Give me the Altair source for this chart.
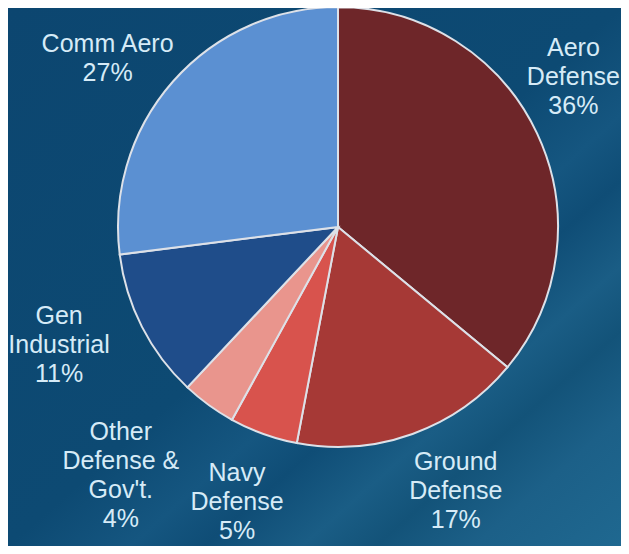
import math
import altair as alt
import pandas as pd

# ---- data ----
categories = ["Aero Defense", "Ground Defense", "Navy Defense",
              "Other Defense & Gov't.", "Gen Industrial", "Comm Aero"]
shares = [36, 17, 5, 4, 11, 27]
label_texts = ["Aero\nDefense\n36%", "Ground\nDefense\n17%", "Navy\nDefense\n5%",
               "Other\nDefense &\nGov't.\n4%", "Gen\nIndustrial\n11%", "Comm Aero\n27%"]
colors = ["#6e2629", "#a63936", "#d8534d", "#e9958d", "#1f4d8a", "#5b90d2"]

# ---- layout ----
W, H = 613, 538
CX, CY = 330, 219
R = 220
LH = 29
label_radius = [287, 286, 301, 328, 303, 289]
label_nudge = [-6.8, -4.3, 0.0, 5.7, 4.5, -4.6]
label_dx = [-9, 0, 0, 0, 0, 0]
label_dy = [0, 1, -10, 2, 0, 3]

pie_df = pd.DataFrame({"idx": list(range(len(categories))),
                       "category": categories, "share": shares})

total = sum(shares)
lx, ly = [], []
cum = 0.0
for s, r, n, t, ddx, ddy in zip(shares, label_radius, label_nudge, label_texts,
                                label_dx, label_dy):
    mid = (cum + s / 2) / total * 360 + n
    cum += s
    a = math.radians(mid)
    nlines = t.count("\n") + 1
    lx.append(CX + 1 + r * math.sin(a) + ddx)
    ly.append(CY + 2 - r * math.cos(a) - (nlines - 1) / 2 * LH + ddy)
lab_df = pd.DataFrame({"label": label_texts, "lx": lx, "ly": ly})

bg_df = pd.DataFrame({"k": [0]})
bg = alt.Chart(bg_df).mark_rect(
    color=alt.LinearGradient(
        gradient="linear", x1=0, y1=0, x2=1, y2=1,
        stops=[alt.GradientStop(color="#0c4670", offset=0),
               alt.GradientStop(color="#0d4a73", offset=0.5),
               alt.GradientStop(color="#155680", offset=0.6),
               alt.GradientStop(color="#0f4d76", offset=0.66),
               alt.GradientStop(color="#1a5d85", offset=0.74),
               alt.GradientStop(color="#135379", offset=0.8),
               alt.GradientStop(color="#1c6088", offset=0.88),
               alt.GradientStop(color="#1f6890", offset=1)])
).encode(x=alt.value(0), x2=alt.value(W), y=alt.value(0), y2=alt.value(H))

pie = alt.Chart(pie_df).mark_arc(radius=R, stroke="#dde1e8", strokeWidth=2).encode(
    theta=alt.Theta("share:Q", stack=True),
    order=alt.Order("idx:Q", sort="ascending"),
    color=alt.Color("category:N", scale=alt.Scale(domain=categories, range=colors),
                    legend=None),
    x=alt.value(CX), y=alt.value(CY),
)

labels = alt.Chart(lab_df).mark_text(
    align="center", baseline="middle", lineBreak="\n", lineHeight=LH,
    fontSize=25, font="Liberation Sans", color="#d6ebf7",
).encode(
    x=alt.X("lx:Q", scale=None, axis=None),
    y=alt.Y("ly:Q", scale=None, axis=None),
    text="label:N",
)

chart = alt.layer(bg, pie, labels).properties(
    width=W, height=H, padding=0, autosize=alt.AutoSizeParams(type="none"),
    background="#0c4670",
).configure_view(strokeWidth=0)

chart.save("out.html", embed_options={"renderer": "svg", "actions": False})
